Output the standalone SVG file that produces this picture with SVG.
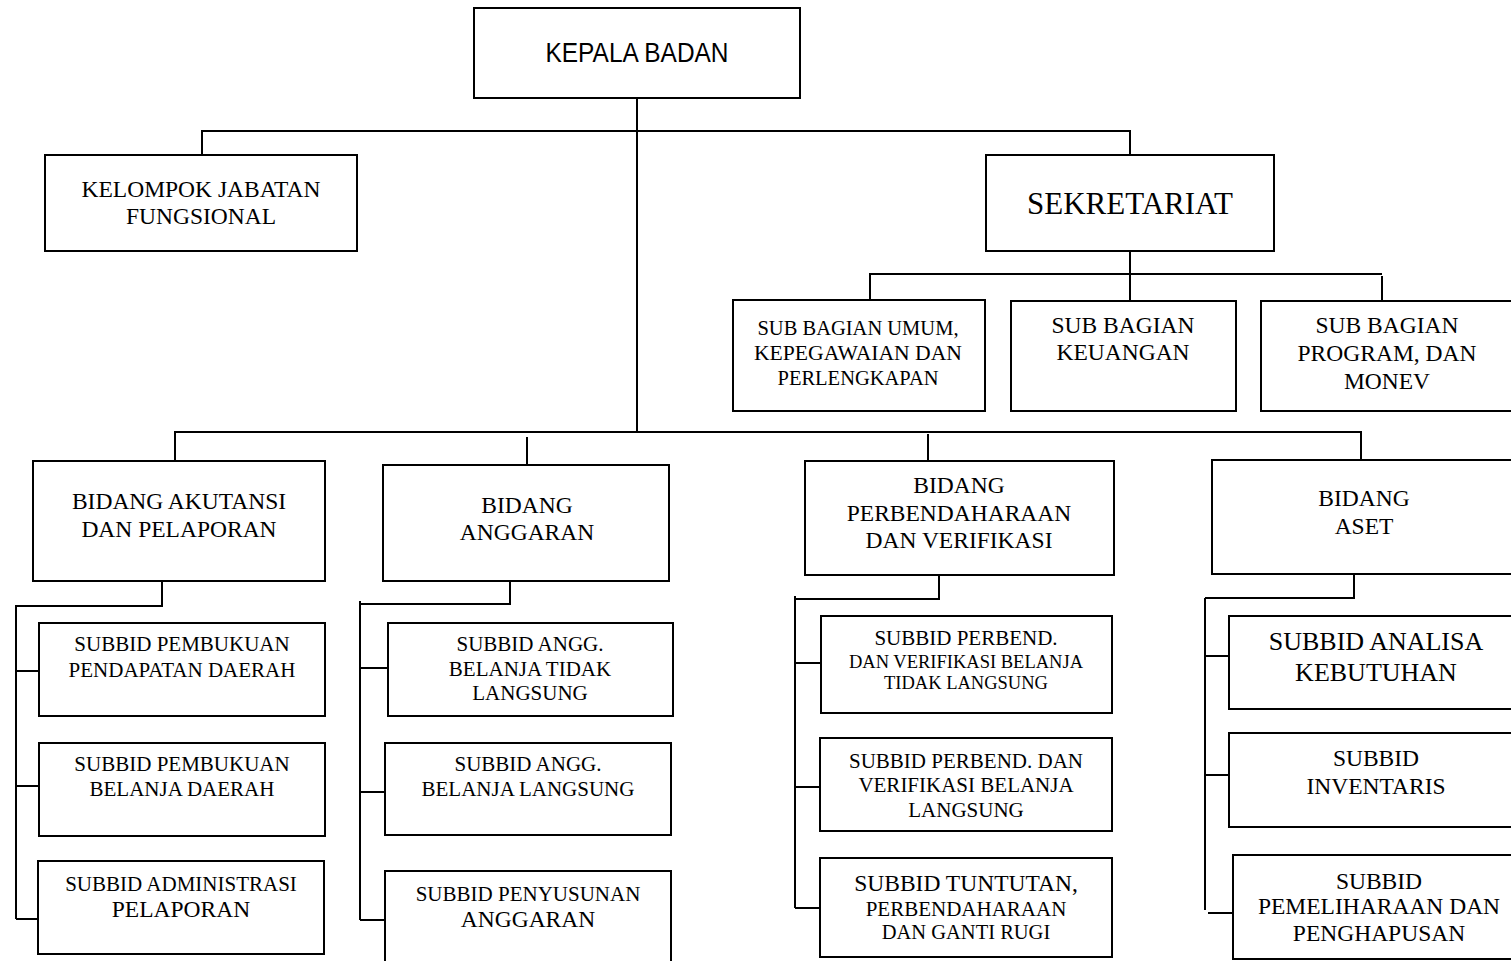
<svg xmlns="http://www.w3.org/2000/svg" width="1511" height="961" viewBox="0 0 1511 961">
<style>
.box{fill:#fff;stroke:#000;stroke-width:2}
.c{fill:none;stroke:#000;stroke-width:2}
text{font-family:"Liberation Serif","Times New Roman",serif;fill:#000;text-anchor:middle}
.f20{font-size:20.5px}.f21{font-size:21px}.f18{font-size:18.5px}.f23{font-size:23.5px}.f26{font-size:26px}.f31{font-size:31px}
.sans{font-family:"Liberation Sans",Arial,sans-serif;font-size:28px}
</style>
<rect x="0" y="0" width="1511" height="961" fill="#fff"/>
<g id="connectors" class="c">
<path d="M637 98V432"/>
<path d="M202 155V131H1130V155"/>
<path d="M1130 251V301M870 300V274H1382M1382 276V301"/>
<path d="M175 461V432H1361V460M527 437V465M928 434V461"/>
<path d="M162 581V606H16M16 605V919M16 671H39M16 786H39M16 919H38"/>
<path d="M510 581V604H360M360 601V920M360 668H388M360 792H385M360 920H385"/>
<path d="M939 575V599H795M795 596V908M795 663H821M795 787H820M795 908H820"/>
<path d="M1354 574V598H1205M1205 598V910M1205 656H1229M1205 775H1229M1208 913H1233"/>
</g>
<g id="kepala"><rect class="box" x="474" y="8" width="326" height="90"/><text class="sans" x="637" y="62" textLength="183" lengthAdjust="spacingAndGlyphs">KEPALA BADAN</text></g>
<g id="kelompok"><rect class="box" x="45" y="155" width="312" height="96"/><text class="f23" x="201" y="197">KELOMPOK JABATAN</text><text class="f23" x="201" y="224">FUNGSIONAL</text></g>
<g id="sekretariat"><rect class="box" x="986" y="155" width="288" height="96"/><text class="f31" x="1130" y="214">SEKRETARIAT</text></g>
<g id="sb-umum"><rect class="box" x="733" y="300" width="252" height="111"/><text class="f20" x="858" y="335">SUB BAGIAN UMUM,</text><text class="f20" x="858" y="360" textLength="208" lengthAdjust="spacingAndGlyphs">KEPEGAWAIAN DAN</text><text class="f20" x="858" y="385">PERLENGKAPAN</text></g>
<g id="sb-keuangan"><rect class="box" x="1011" y="301" width="225" height="110"/><text class="f23" x="1123" y="333">SUB BAGIAN</text><text class="f23" x="1123" y="360">KEUANGAN</text></g>
<g id="sb-program"><rect class="box" x="1261" y="301" width="260" height="110"/><text class="f23" x="1387" y="333">SUB BAGIAN</text><text class="f23" x="1387" y="361">PROGRAM, DAN</text><text class="f23" x="1387" y="389">MONEV</text></g>
<g id="bid-akutansi"><rect class="box" x="33" y="461" width="292" height="120"/><text class="f23" x="179" y="509">BIDANG AKUTANSI</text><text class="f23" x="179" y="537">DAN PELAPORAN</text></g>
<g id="bid-anggaran"><rect class="box" x="383" y="465" width="286" height="116"/><text class="f23" x="527" y="513">BIDANG</text><text class="f23" x="527" y="540">ANGGARAN</text></g>
<g id="bid-perbendaharaan"><rect class="box" x="805" y="461" width="309" height="114"/><text class="f23" x="959" y="493">BIDANG</text><text class="f23" x="959" y="521">PERBENDAHARAAN</text><text class="f23" x="959" y="548">DAN VERIFIKASI</text></g>
<g id="bid-aset"><rect class="box" x="1212" y="460" width="309" height="114"/><text class="f23" x="1364" y="506">BIDANG</text><text class="f23" x="1364" y="534">ASET</text></g>
<g id="sbd-pendapatan"><rect class="box" x="39" y="623" width="286" height="93"/><text class="f21" x="182" y="651">SUBBID PEMBUKUAN</text><text class="f21" x="182" y="677">PENDAPATAN DAERAH</text></g>
<g id="sbd-belanja"><rect class="box" x="39" y="743" width="286" height="93"/><text class="f21" x="182" y="771">SUBBID PEMBUKUAN</text><text class="f21" x="182" y="796">BELANJA DAERAH</text></g>
<g id="sbd-admin"><rect class="box" x="38" y="861" width="286" height="93"/><text class="f21" x="181" y="891">SUBBID ADMINISTRASI</text><text class="f23" x="181" y="917">PELAPORAN</text></g>
<g id="sbd-angg-tl"><rect class="box" x="388" y="623" width="285" height="93"/><text class="f21" x="530" y="651">SUBBID ANGG.</text><text class="f21" x="530" y="676">BELANJA TIDAK</text><text class="f21" x="530" y="700">LANGSUNG</text></g>
<g id="sbd-angg-l"><rect class="box" x="385" y="743" width="286" height="92"/><text class="f21" x="528" y="771">SUBBID ANGG.</text><text class="f21" x="528" y="796">BELANJA LANGSUNG</text></g>
<g id="sbd-penyusunan"><rect class="box" x="385" y="871" width="286" height="100"/><text class="f21" x="528" y="901">SUBBID PENYUSUNAN</text><text class="f23" x="528" y="927">ANGGARAN</text></g>
<g id="sbd-perbend-tl"><rect class="box" x="821" y="616" width="291" height="97"/><text class="f21" x="966" y="645">SUBBID PERBEND.</text><text class="f18" x="966" y="668">DAN VERIFIKASI  BELANJA</text><text class="f18" x="966" y="689">TIDAK LANGSUNG</text></g>
<g id="sbd-perbend-l"><rect class="box" x="820" y="738" width="292" height="93"/><text class="f21" x="966" y="768">SUBBID PERBEND. DAN</text><text class="f21" x="966" y="792">VERIFIKASI BELANJA</text><text class="f21" x="966" y="817">LANGSUNG</text></g>
<g id="sbd-tuntutan"><rect class="box" x="820" y="858" width="292" height="99"/><text class="f23" x="966" y="891">SUBBID TUNTUTAN,</text><text class="f21" x="966" y="916">PERBENDAHARAAN</text><text class="f20" x="966" y="939">DAN GANTI RUGI</text></g>
<g id="sbd-analisa"><rect class="box" x="1229" y="616" width="292" height="93"/><text class="f26" x="1376" y="650">SUBBID ANALISA</text><text class="f26" x="1376" y="681">KEBUTUHAN</text></g>
<g id="sbd-inventaris"><rect class="box" x="1229" y="733" width="292" height="94"/><text class="f23" x="1376" y="766">SUBBID</text><text class="f23" x="1376" y="794">INVENTARIS</text></g>
<g id="sbd-pemeliharaan"><rect class="box" x="1233" y="855" width="288" height="104"/><text class="f23" x="1379" y="889">SUBBID</text><text class="f23" x="1379" y="914">PEMELIHARAAN DAN</text><text class="f23" x="1379" y="941">PENGHAPUSAN</text></g>
</svg>
